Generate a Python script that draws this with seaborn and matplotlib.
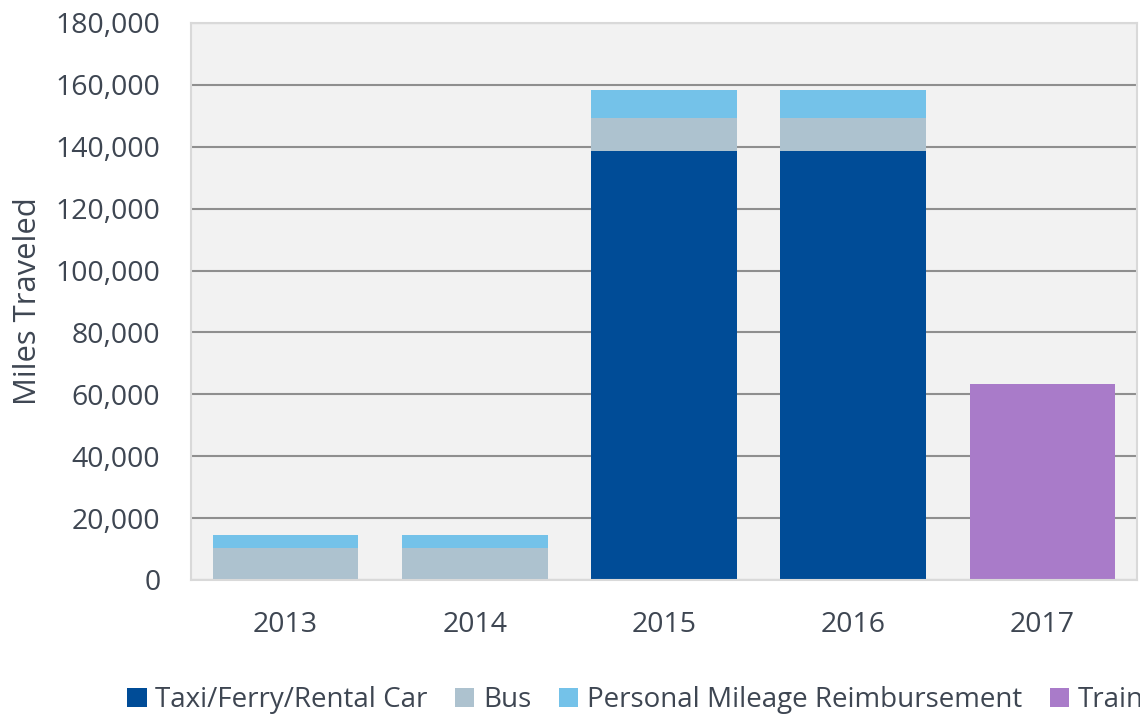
import matplotlib
matplotlib.use("Agg")
import matplotlib.pyplot as plt
import seaborn as sns
import pandas as pd
import numpy as np
from matplotlib.patches import Patch
from matplotlib.ticker import FuncFormatter, MultipleLocator

years = ["2013", "2014", "2015", "2016", "2017"]
taxi = [0, 0, 138700, 138700, 0]
bus = [10400, 10400, 10700, 10700, 0]
pmr = [4300, 4300, 9000, 9000, 0]
train = [0, 0, 0, 0, 63400]

series_names = ["Taxi/Ferry/Rental Car", "Bus", "Personal Mileage Reimbursement", "Train"]
colors = ["#004C97", "#ADC2CF", "#74C2E9", "#A97BC9"]

sns.set_theme(style="white")
plt.rcParams["font.family"] = ["Open Sans", "DejaVu Sans"]
text_color = "#3E4652"

fig = plt.figure(figsize=(11.4, 7.21), dpi=100)
ax = fig.add_axes([191 / 1140, 141 / 721, (1137 - 191) / 1140, (580 - 23) / 721])
ax.set_facecolor("#F2F2F2")

layers = [taxi, bus, pmr, train]
cums = np.cumsum(np.array(layers), axis=0)
# draw from top-most cumulative down so lower layers cover
for i in range(len(layers) - 1, -1, -1):
    df = pd.DataFrame({"year": years, "value": cums[i]})
    sns.barplot(data=df, x="year", y="value", color=colors[i], ax=ax,
                width=0.77, saturation=1, linewidth=0, zorder=3, errorbar=None)

ax.set_ylim(0, 180000)
ax.yaxis.set_major_locator(MultipleLocator(20000))
ax.yaxis.set_major_formatter(FuncFormatter(lambda v, p: f"{int(v):,}"))
ax.grid(axis="y", color="#8F8F8F", linewidth=1.5, zorder=0)
ax.set_axisbelow(True)
ax.set_xlabel("")
ax.set_ylabel("Miles Traveled", fontsize=22.3, color=text_color)
ax.yaxis.set_label_coords(-(191 - 43) / 946, 0.5)
ax.tick_params(axis="y", length=0, pad=22, labelsize=20.5, labelcolor=text_color)
ax.tick_params(axis="x", length=0, pad=22, labelsize=20.5, labelcolor=text_color)
for s in ax.spines.values():
    s.set_color("#D9D9D9")
    s.set_linewidth(1.5)
    s.set_zorder(4)

handles = [Patch(facecolor=c, edgecolor="none") for c in colors]
fig.legend(handles, series_names, loc="lower left", bbox_to_anchor=(116 / 1140, -0.006),
           ncol=4, frameon=False, fontsize=20, labelcolor=text_color,
           handlelength=0.7, handleheight=0.7, handletextpad=0.3, columnspacing=1.0,
           borderaxespad=0)

fig.savefig("out.png", dpi=100)
